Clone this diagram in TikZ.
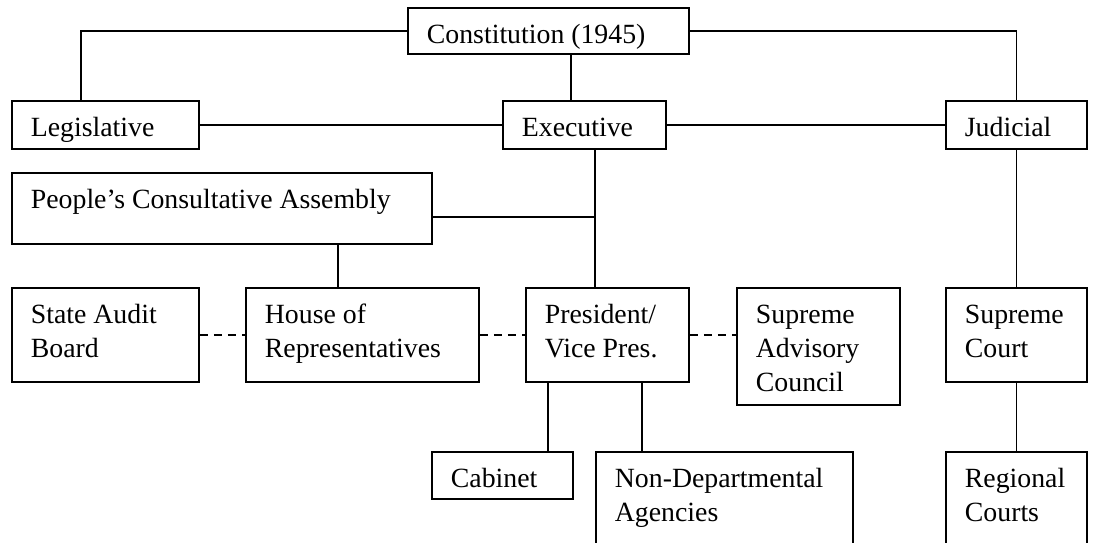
\documentclass[tikz,border=0pt]{standalone}
\usepackage{fontspec}
\setmainfont{Liberation Serif}
\usetikzlibrary{calc}
\newlength{\pxunit}
\setlength{\pxunit}{0.5pt}
\newcommand{\boxtext}[3]{\parbox[c][#2\pxunit][t]{#1\pxunit}{\raggedright\leftskip=19\pxunit\relax\vspace*{6pt}\strut #3}}
\tikzset{
  orgbox/.style={draw, line width=0.9pt, inner sep=0pt, anchor=north west},
  link/.style={line width=0.9pt},
  liaison/.style={line width=0.9pt, dash pattern=on 4pt off 3pt}
}
\begin{document}
\begin{tikzpicture}[x=0.5pt, y=-0.5pt, font=\fontsize{13.9}{17}\selectfont]
\useasboundingbox (0,0) rectangle (1103,542);
\clip (0,0) rectangle (1103,542);
\node[orgbox] (const) at (407,7) {\boxtext{281}{46}{Constitution (1945)}};
\node[orgbox] (legis) at (11,100) {\boxtext{187}{48}{Legislative}};
\node[orgbox] (exec) at (502,100) {\boxtext{163}{48}{Executive}};
\node[orgbox] (judic) at (945,100) {\boxtext{141}{48}{Judicial}};
\node[orgbox] (pca) at (11,172) {\boxtext{420}{71}{People’s Consultative Assembly}};
\node[orgbox] (sab) at (11,287) {\boxtext{187}{94}{State Audit\\Board}};
\node[orgbox] (house) at (245,287) {\boxtext{233}{94}{House of\\Representatives}};
\node[orgbox] (pres) at (525,287) {\boxtext{163}{94}{President/\\Vice Pres.}};
\node[orgbox] (sac) at (736,287) {\boxtext{163}{117}{Supreme\\Advisory\\Council}};
\node[orgbox] (supc) at (945,287) {\boxtext{141}{94}{Supreme\\Court}};
\node[orgbox] (cab) at (431,451) {\boxtext{141}{47}{Cabinet}};
\node[orgbox] (nda) at (595,451) {\boxtext{257}{110}{Non-Departmental\\Agencies}};
\node[orgbox] (reg) at (945,451) {\boxtext{141}{110}{Regional\\Courts}};
\draw[link] (const.west) -| ($(legis.north west)+(70,0)$);
\draw[link] (const.east) -| (judic.north);
\coordinate (c1) at ($(const.south west)+(164,0)$);
\draw[link] (c1) -- (c1 |- exec.north);
\draw[link] (legis.east) -- (exec.west);
\draw[link] (exec.east) -- (judic.west);
\coordinate (e1) at ($(exec.south west)+(93,0)$);
\draw[link] (e1) -- (e1 |- pres.north);
\coordinate (p1) at ($(pca.north east)+(0,45)$);
\draw[link] (p1) -- (p1 -| e1);
\coordinate (p2) at ($(pca.south west)+(327,0)$);
\draw[link] (p2) -- (p2 |- house.north);
\draw[liaison] (sab.east) -- (house.west);
\draw[liaison] (house.east) -- (pres.west);
\draw[liaison] (pres.east) -- (pres.east -| sac.west);
\coordinate (v1) at ($(pres.south west)+(23,0)$);
\draw[link] (v1) -- (v1 |- cab.north);
\coordinate (v2) at ($(pres.south west)+(117,0)$);
\draw[link] (v2) -- (v2 |- nda.north);
\draw[link] (judic.south) -- (supc.north);
\draw[link] (supc.south) -- (reg.north);
\end{tikzpicture}
\end{document}
